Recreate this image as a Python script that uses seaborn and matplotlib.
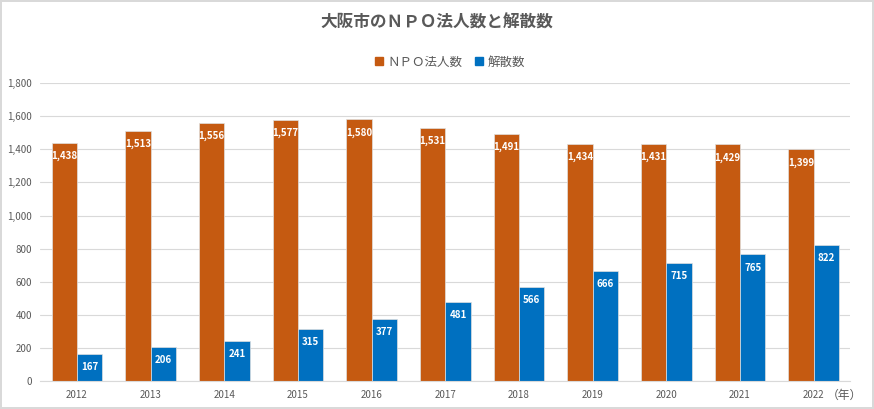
import numpy as np
import pandas as pd
import seaborn as sns
import matplotlib.pyplot as plt

# データ
years = ["2012", "2013", "2014", "2015", "2016", "2017", "2018", "2019", "2020", "2021", "2022"]
npo = [1438, 1513, 1556, 1577, 1580, 1531, 1491, 1434, 1431, 1429, 1399]
kaisan = [167, 206, 241, 315, 377, 481, 566, 666, 715, 765, 822]
series = ["ＮＰＯ法人数", "解散数"]
colors = ["#C55A11", "#0070C0"]

df = pd.DataFrame({
    "年": years * 2,
    "数": npo + kaisan,
    "種類": [series[0]] * len(years) + [series[1]] * len(years),
})

sns.set_style("white")
plt.rcParams['font.family'] = ['Noto Sans CJK JP', 'DejaVu Sans']

fig = plt.figure(figsize=(8.74, 4.09), dpi=100)
fig.patch.set_edgecolor("#d9d9d9")
fig.patch.set_linewidth(1.5)
ax = fig.add_axes([0.046, 0.068, 0.927, 0.729])

sns.barplot(data=df, x="年", y="数", hue="種類", palette=colors, width=0.69,
            saturation=1, edgecolor="#e0e0e0", linewidth=0.5, ax=ax, legend=False)

ax.set_ylim(0, 1800)
ax.set_yticks(np.arange(0, 1801, 200))
ax.set_yticklabels([f"{v:,}" for v in range(0, 1801, 200)])
ax.yaxis.grid(True, color="#d9d9d9", linewidth=0.8)
ax.set_axisbelow(True)
ax.tick_params(axis="both", labelsize=7, colors="#595959", length=0, pad=6)
ax.set_xlabel("")
ax.set_ylabel("")
for s in ["left", "right", "top"]:
    ax.spines[s].set_visible(False)
ax.spines["bottom"].set_color("#d9d9d9")

# バーのラベル
for cont in ax.containers:
    labels = [f"{int(v):,}" for v in cont.datavalues]
    ax.bar_label(cont, labels=labels, padding=-13, color="white",
                 fontsize=7, fontweight="bold",
                 family=["Liberation Sans Narrow", "Noto Sans CJK JP"])

fig.text(0.946, 0.034, "（年）", fontsize=8.5, color="#595959",
         ha="left", va="center")

fig.text(0.5, 0.945, "大阪市のＮＰＯ法人数と解散数", ha="center", va="center",
         fontsize=12, fontweight="bold", color="#595959")

handles = [plt.Rectangle((0, 0), 1, 1, color=c) for c in colors]
fig.legend(handles, series, loc="center", bbox_to_anchor=(0.515, 0.848), ncol=2,
           frameon=False, fontsize=9, handlelength=0.6, handleheight=0.6,
           handletextpad=0.4, columnspacing=1.0, labelcolor="#595959")

fig.savefig("out.png", dpi=100)
